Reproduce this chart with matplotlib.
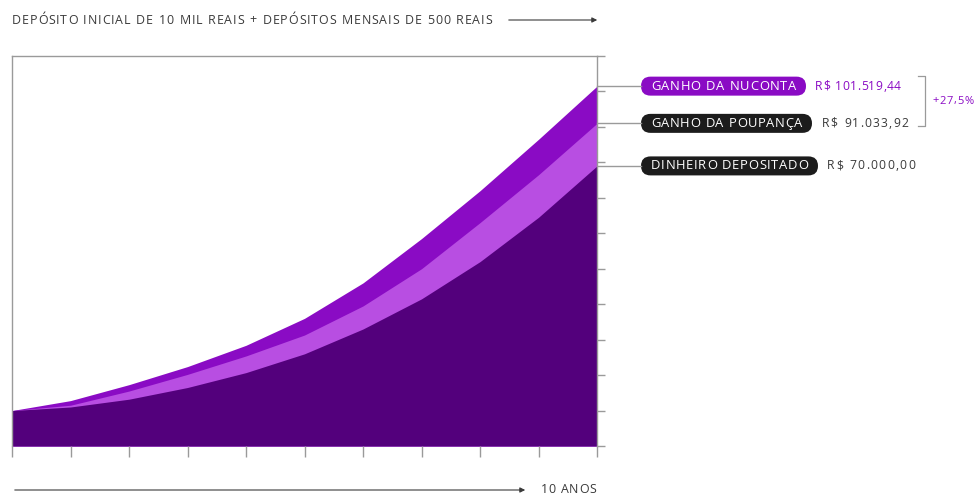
import numpy as np
import matplotlib.pyplot as plt
from matplotlib.patches import FancyBboxPatch, FancyArrowPatch
from matplotlib.transforms import IdentityTransform

plt.rcParams["font.family"] = ["Open Sans", "DejaVu Sans"]

# Balance over 10 years, in R$ thousands (one point per year)
years = np.arange(0, 11)
depositado = [10.0, 11.0, 13.2, 16.5, 20.7, 26.0, 33.0, 41.5, 52.0, 64.5, 79.0]
poupanca = [10.0, 11.5, 15.5, 20.2, 25.4, 31.3, 39.5, 50.0, 63.0, 76.5, 91.0]
nuconta = [10.0, 12.8, 17.3, 22.4, 28.4, 36.0, 46.0, 58.5, 72.0, 86.5, 101.5]

labels = ["GANHO DA NUCONTA", "GANHO DA POUPANÇA", "DINHEIRO DEPOSITADO"]
valores = ["R$ 101.519,44", "R$ 91.033,92", "R$ 70.000,00"]
diferenca = "+27,5%"
titulo = "DEPÓSITO INICIAL DE 10 MIL REAIS + DEPÓSITOS MENSAIS DE 500 REAIS"
rodape = "10 ANOS"

ROXO = "#8a0bc4"
LILAS = "#b84ee2"
ROXO_ESCURO = "#53007c"
PRETO = "#1c1c1c"
CINZA = "#9a9a9a"
TEXTO = "#3a3a3a"

W, H = 977, 494
fig = plt.figure(figsize=(W / 100, H / 100), dpi=100)
ax = fig.add_axes([12 / W, 48 / H, 585 / W, 390 / H])
renderer = fig.canvas.get_renderer()
_probe = fig.text(0, 0, "", fontsize=8)


def measure(s, size):
    _probe.set_fontsize(size)
    _probe.set_text(s)
    return _probe.get_window_extent(renderer).width


def tracked(x, y, s, size, width, color, ha="left"):
    """Letter-spaced text spanning `width` pixels, drawn char by char.

    A word gap counts as two letter gaps so spaces stay visible.
    """
    bar = measure("|", size)
    offs = [0.0] + [measure(s[:i] + "|", size) - bar for i in range(1, len(s))]
    units = [0]
    for i in range(1, len(s)):
        units.append(units[-1] + (2 if s[i - 1] == " " else 1))
    spacing = (width - measure(s, size)) / max(units[-1], 1)
    x0 = x - width / 2 if ha == "center" else x
    for i, ch in enumerate(s):
        if ch == " ":
            continue
        fig.text((x0 + offs[i] + units[i] * spacing) / W, y / H, ch,
                 color=color, fontsize=size, va="center", ha="left")


ax.fill_between(years, 0, nuconta, color=ROXO, lw=0)
ax.fill_between(years, 0, poupanca, color=LILAS, lw=0)
ax.fill_between(years, 0, depositado, color=ROXO_ESCURO, lw=0)

ax.set_xlim(0, 10)
ax.set_ylim(0, 110)

for side in ["top", "left", "right"]:
    ax.spines[side].set_color(CINZA)
    ax.spines[side].set_linewidth(1)
ax.spines["bottom"].set_visible(False)

ax.set_xticks(years)
ax.set_xticklabels([])
ax.tick_params(axis="x", direction="out", length=8, width=1, color=CINZA)
ax.set_yticks(np.arange(0, 111, 10))
ax.set_yticklabels([])
ax.tick_params(axis="y", left=False, right=True, direction="out",
               length=6, width=1, color=CINZA)

# Labels on the right, one per curve end (pixel layout)
ends = [nuconta[-1], poupanca[-1], depositado[-1]]
pill_colors = [ROXO, PRETO, PRETO]
value_colors = [ROXO, TEXTO, TEXTO]
pill_right = [806, 812, 818]
value_x = [815, 822, 827]
value_w = [86, 86, 88]
x_edge = ax.transAxes.transform((1, 0))[0]
pill_left = 641
pill_h = 19
for lab, val, y, pc, vc, pr, vx, vw in zip(labels, valores, ends, pill_colors,
                                           value_colors, pill_right, value_x,
                                           value_w):
    yd = ax.transData.transform((10, y))[1]
    fig.add_artist(plt.Line2D([x_edge, pill_left], [yd, yd], color=CINZA,
                              lw=1, transform=IdentityTransform()))
    fig.add_artist(FancyBboxPatch(
        (pill_left, yd - pill_h / 2), pr - pill_left, pill_h,
        boxstyle=f"round,pad=0,rounding_size={pill_h / 2}",
        fc=pc, ec="none", transform=IdentityTransform()))
    tracked((pill_left + pr) / 2, yd, lab, 9.4, pr - pill_left - 20,
            "white", ha="center")
    tracked(vx, yd, val, 8.7, vw, vc)

# Bracket between the two yields
y_top = H - 76
y_bot = H - 126
fig.add_artist(plt.Line2D([918, 925, 925, 918], [y_top, y_top, y_bot, y_bot],
                          color=CINZA, lw=0.9, transform=IdentityTransform()))
tracked(932, H - 101, diferenca, 8.0, 42, ROXO)

# Header and footer with arrows
tracked(12, H - 20, titulo, 8.9, 480, TEXTO)
fig.patches.append(FancyArrowPatch(
    (506 / W, 1 - 20 / H), (600 / W, 1 - 20 / H),
    transform=fig.transFigure, arrowstyle="-|>,head_length=3,head_width=1.5",
    color=TEXTO, lw=0.8))
fig.patches.append(FancyArrowPatch(
    (12 / W, 1 - 490 / H), (528 / W, 1 - 490 / H),
    transform=fig.transFigure, arrowstyle="-|>,head_length=3,head_width=1.5",
    color=TEXTO, lw=0.8))
tracked(541, H - 489, rodape, 8.9, 55, TEXTO)

_probe.set_visible(False)
fig.savefig("out.png", dpi=100)
